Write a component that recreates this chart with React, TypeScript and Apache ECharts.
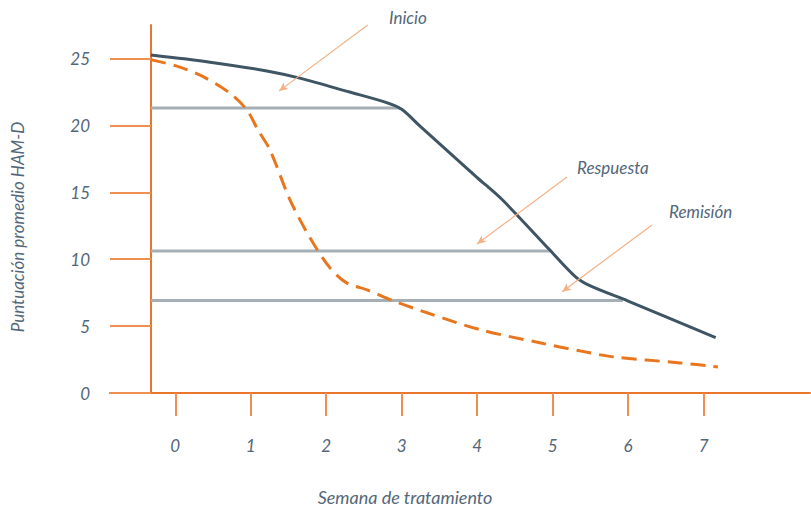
import React, { useEffect, useRef } from 'react';
import * as echarts from 'echarts';

// Tick values
const weekTicks = [0, 1, 2, 3, 4, 5, 6, 7];
const scoreTicks = [0, 5, 10, 15, 20, 25];

// Curves: [week, mean HAM-D score]
const solidCurve: [number, number][] = [
  [-0.322, 25.25], [0.46, 24.72], [1.23, 24.05], [1.65, 23.53], [2.31, 22.49],
  [2.8, 21.7], [3.0, 21.2], [3.25, 19.9], [4.0, 16.1], [4.34, 14.4],
  [4.96, 10.7], [5.3, 8.7], [5.5, 8.0], [6.0, 6.87], [7.16, 4.13],
];
const dashedCurve: [number, number][] = [
  [-0.322, 24.9], [0, 24.46], [0.33, 23.75], [0.724, 22.41], [0.95, 21.14],
  [1.096, 19.65], [1.255, 18.16], [1.52, 14.43], [1.785, 11.6], [2.05, 9.35],
  [2.27, 8.23], [2.54, 7.71], [2.885, 6.89], [3.375, 5.92], [4.04, 4.73],
  [4.83, 3.75], [5.36, 3.15], [5.8, 2.7], [6.69, 2.25], [7.19, 1.95],
];

// Threshold lines
const thresholdLabels = ['Inicio', 'Respuesta', 'Remisión'];
const thresholdValues = [21.29, 10.62, 6.91];
const thresholdEnds = [2.977, 4.965, 5.93];
const thresholdStart = -0.322;

// Annotation arrows (data coordinates)
const arrowFrom: [number, number][] = [[2.55, 27.5], [5.19, 16.14], [6.317, 12.56]];
const arrowTo: [number, number][] = [[1.374, 22.56], [3.998, 11.14], [5.125, 7.56]];

const AXIS = '#e9762c';
const TICK = '#f08f52';
const TEXT = '#53677a';
const FONT = 'Lato';

export default function App() {
  const ref = useRef<HTMLDivElement>(null);
  useEffect(() => {
    if (!ref.current) return;
    const chart = echarts.init(ref.current, undefined, { renderer: 'svg' });
    const labelPos = [
      { x: 389, y: 17 },
      { x: 577, y: 167 },
      { x: 669, y: 211 },
    ];
    chart.setOption({
      animation: false,
      grid: { left: 110, right: 1, top: 25, bottom: 115, containLabel: false },
      xAxis: {
        type: 'value',
        min: -0.865,
        max: 8.41,
        splitLine: { show: false },
        axisLine: { onZero: false, lineStyle: { color: AXIS, width: 2 } },
        axisTick: { show: true, customValues: weekTicks, length: 23, lineStyle: { color: TICK, width: 2 } },
        axisLabel: {
          customValues: weekTicks,
          margin: 44,
          fontFamily: FONT,
          fontStyle: 'italic',
          fontSize: 17,
          color: TEXT,
        },
      },
      yAxis: {
        type: 'value',
        min: 0,
        max: 27.5,
        offset: -41,
        splitLine: { show: false },
        axisLine: { onZero: false, lineStyle: { color: AXIS, width: 2 } },
        axisTick: { show: true, customValues: scoreTicks, length: 41, lineStyle: { color: TICK, width: 2 } },
        axisLabel: {
          customValues: scoreTicks,
          margin: 61,
          fontFamily: FONT,
          fontStyle: 'italic',
          fontSize: 17,
          color: TEXT,
        },
      },
      series: [
        ...thresholdValues.map((v, i) => ({
          type: 'line',
          name: thresholdLabels[i],
          data: [[thresholdStart, v], [thresholdEnds[i], v]],
          symbol: 'none',
          silent: true,
          z: 1,
          lineStyle: { color: '#a6afb5', width: 3 },
        })),
        {
          type: 'line',
          name: 'solid',
          data: solidCurve,
          symbol: 'none',
          smooth: 0.3,
          z: 3,
          lineStyle: { color: '#3f5564', width: 3 },
        },
        {
          type: 'line',
          name: 'dashed',
          data: dashedCurve,
          symbol: 'none',
          smooth: 0.3,
          z: 3,
          lineStyle: { color: '#e8761f', width: 3, type: [15, 8] },
        },
        {
          type: 'line',
          name: 'arrows',
          data: [],
          clip: false,
          silent: true,
          markLine: {
            silent: true,
            animation: false,
            symbol: ['none', 'arrow'],
            symbolSize: [6, 9],
            label: { show: false },
            emphasis: { disabled: true },
            lineStyle: { color: '#f4b187', width: 1.2, type: 'solid' },
            data: arrowFrom.map((f, i) => [{ coord: f }, { coord: arrowTo[i] }]),
          },
        },
      ],
      graphic: [
        ...thresholdLabels.map((t, i) => ({
          type: 'text',
          x: labelPos[i].x,
          y: labelPos[i].y,
          style: {
            text: t,
            fontFamily: FONT,
            fontStyle: 'italic',
            fontSize: 17,
            fill: TEXT,
            verticalAlign: 'middle',
            align: 'left',
          },
        })),
        {
          type: 'text',
          x: 17,
          y: 227,
          rotation: Math.PI / 2,
          style: {
            text: 'Puntuación promedio HAM-D',
            fontFamily: FONT,
            fontStyle: 'italic',
            fontSize: 17,
            fill: TEXT,
            align: 'center',
            verticalAlign: 'middle',
          },
        },
        {
          type: 'text',
          x: 405,
          y: 497,
          style: {
            text: 'Semana de tratamiento',
            fontFamily: FONT,
            fontStyle: 'italic',
            fontSize: 18,
            fill: TEXT,
            align: 'center',
            verticalAlign: 'middle',
          },
        },
      ],
    });
    return () => chart.dispose();
  }, []);
  return (
    <div
      ref={ref}
      style={{ position: 'fixed', left: 0, top: 0, width: 811, height: 508, background: '#fff' }}
    />
  );
}
